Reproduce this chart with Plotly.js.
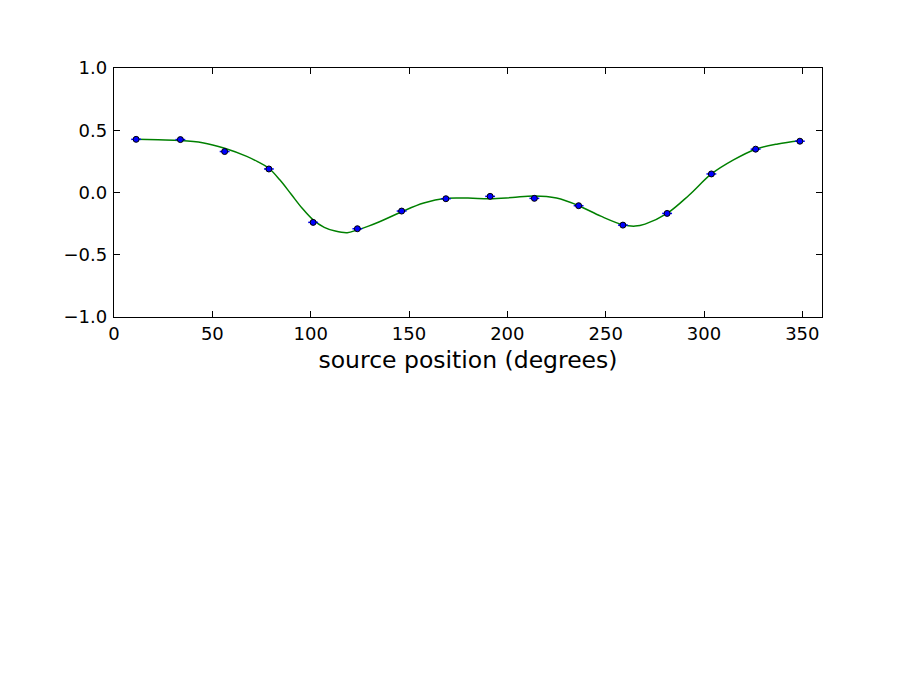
<!DOCTYPE html>
<html>
<head>
<meta charset="utf-8">
<script src="https://cdn.plot.ly/plotly-3.0.1.min.js"></script>
<style>html,body{margin:0;padding:0;background:#fff;}#chart{width:913px;height:685px;}</style>
</head>
<body>
<div id="chart"></div>
<script>
// measured points (source position in degrees, value)
var pointX = [11.25, 33.75, 56.25, 78.75, 101.25, 123.75, 146.25, 168.75, 191.25, 213.75, 236.25, 258.75, 281.25, 303.75, 326.25, 348.75];
var pointY = [0.427, 0.425, 0.329, 0.189, -0.240, -0.291, -0.149, -0.050, -0.031, -0.047, -0.106, -0.262, -0.168, 0.149, 0.348, 0.412];
var pointErrX = [2.5, 2.5, 2.5, 2.5, 2.5, 2.5, 2.5, 2.5, 2.5, 2.5, 2.5, 2.5, 2.5, 2.5, 2.5, 2.5];

// fitted curve
var curveX = [11.25, 22.5, 33.75, 45, 56.25, 67.5, 73, 78.75, 84.4, 90, 95.6, 101.25, 106.9, 112.5, 118.6, 123.75, 129.4, 135, 146.25, 157.5, 168.75, 180, 191.25, 202.5, 213.75, 225, 236.25, 247.5, 258.75, 265, 270, 281.25, 292.5, 303.75, 315, 326.25, 337.5, 348.75];
var curveY = [0.427, 0.423, 0.418, 0.400, 0.355, 0.290, 0.248, 0.195, 0.100, -0.012, -0.125, -0.220, -0.280, -0.310, -0.323, -0.300, -0.270, -0.235, -0.155, -0.085, -0.047, -0.045, -0.050, -0.040, -0.028, -0.045, -0.106, -0.190, -0.259, -0.270, -0.254, -0.168, -0.020, 0.149, 0.262, 0.348, 0.390, 0.415];

var xTicks = [0, 50, 100, 150, 200, 250, 300, 350];
var yTicks = [-1.0, -0.5, 0.0, 0.5, 1.0];

var font = 'DejaVu Sans, sans-serif';

var traces = [
  {
    x: curveX, y: curveY, type: 'scatter', mode: 'lines',
    line: {color: '#008000', width: 1.5, shape: 'spline', smoothing: 1},
    hoverinfo: 'skip'
  },
  {
    x: pointX, y: pointY, type: 'scatter', mode: 'markers',
    marker: {color: '#0000ff', size: 6, line: {color: '#000000', width: 1}},
    error_x: {type: 'data', array: pointErrX, visible: true, color: '#0000ff', thickness: 1.5, width: 0}
  }
];

var axisCommon = {
  showgrid: false, zeroline: false, showline: true, linecolor: '#000', linewidth: 1.3,
  mirror: 'allticks', ticks: 'inside', ticklen: 6, tickwidth: 1, tickcolor: '#000',
  tickfont: {family: font, size: 18, color: '#000'}
};

var layout = {
  width: 913, height: 685,
  margin: {l: 114, r: 91, t: 68, b: 368, pad: 0},
  paper_bgcolor: '#fff', plot_bgcolor: '#fff',
  showlegend: false,
  xaxis: Object.assign({}, axisCommon, {
    range: [0, 360], tickvals: xTicks, ticktext: xTicks.map(String),
    title: {text: 'source position (degrees)', font: {family: font, size: 23.5, color: '#000'}, standoff: 8}
  }),
  yaxis: Object.assign({}, axisCommon, {
    range: [-1, 1], tickvals: yTicks, ticktext: yTicks.map(function(v){ return (v < 0 ? '\u2212' : '') + Math.abs(v).toFixed(1); }),
    ticklabelstandoff: 2
  })
};

Plotly.newPlot('chart', traces, layout, {displayModeBar: false, staticPlot: true});
</script>
</body>
</html>
